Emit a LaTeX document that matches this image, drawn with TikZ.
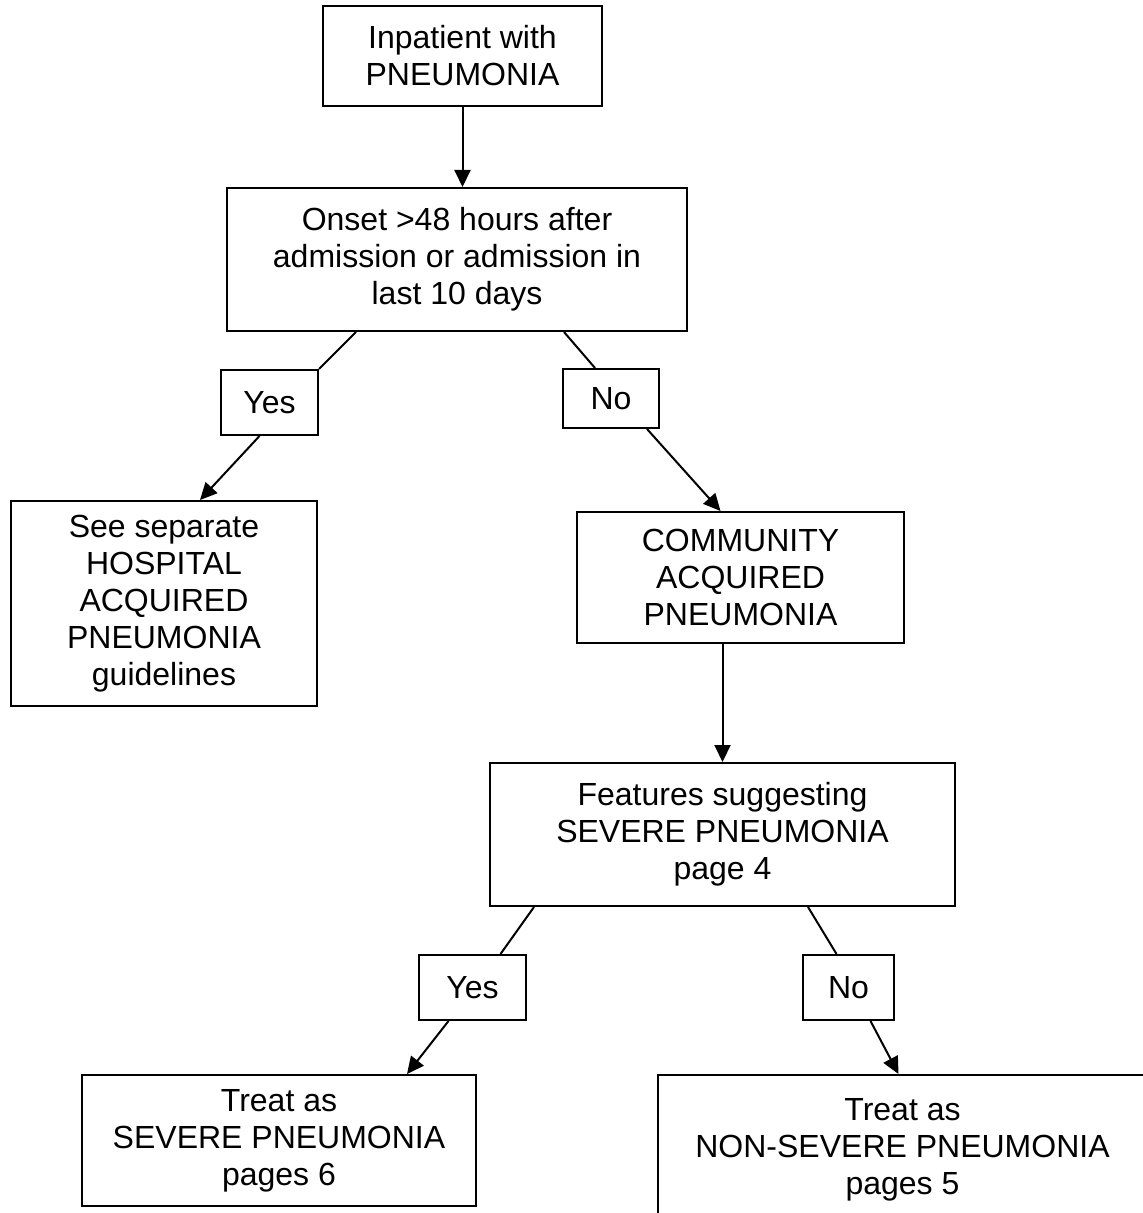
\documentclass[tikz,border=0pt]{standalone}
\usepackage{fontspec}
\setmainfont{Liberation Sans}
\usetikzlibrary{arrows.meta}
\tikzset{
  box/.style={draw, rectangle, line width=1pt, inner sep=0pt, align=center,
    font=\fontsize{16}{18.5}\selectfont},
  link/.style={line width=1pt},
  >={Triangle[length=8.5pt,width=8pt]}
}
\begin{document}
\begin{tikzpicture}[x=0.5pt,y=-0.5pt]
        \useasboundingbox (0,0) rectangle (1143,1213);
        \node[box, minimum width=139.5pt, minimum height=50pt] (B1) at (462.5,56){Inpatient with\\PNEUMONIA};
        \node[box, minimum width=230pt, minimum height=71.5pt] (B2) at (457,259.5){Onset >48 hours after\\admission or admission in\\last 10 days};
        \node[box, minimum width=48.5pt, minimum height=32.5pt] (Y1) at (269.5,402.5){Yes};
        \node[box, minimum width=48pt, minimum height=29.5pt] (N1) at (611,398.5){No};
        \node[box, minimum width=153pt, minimum height=102.5pt] (H) at (164,603.5){See separate\\HOSPITAL\\ACQUIRED\\PNEUMONIA\\guidelines};
        \node[box, minimum width=163.5pt, minimum height=65.5pt] (C) at (740.5,577.5){COMMUNITY\\ACQUIRED\\PNEUMONIA};
        \node[box, minimum width=232.5pt, minimum height=71.5pt] (F) at (722.5,834.5){Features suggesting\\SEVERE PNEUMONIA\\page 4};
        \node[box, minimum width=53.5pt, minimum height=32.5pt] (Y2) at (472.5,987.5){Yes};
        \node[box, minimum width=45.5pt, minimum height=32.5pt] (N2) at (848.5,987.5){No};
        \node[box, minimum width=197pt, minimum height=65.5pt] (S) at (279,1140.5){Treat as\\SEVERE PNEUMONIA\\pages 6};
        \node[box, minimum width=244.5pt, minimum height=75pt] (NS) at (902.5,1150){Treat as\\NON-SEVERE PNEUMONIA\\pages 5};
        \draw[link,->] (B1.south) -- (B1.south |- B2.north);
        \draw[link] ([xshift=65pt]B2.south west) -- (Y1.north east);
        \draw[link] ([xshift=-62pt]B2.south east) -- ([xshift=16.5pt]N1.north west);
        \draw[link,->] ([xshift=-5pt]Y1.south) -- ([xshift=18pt]H.north);
        \draw[link,->] ([xshift=18pt]N1.south) -- ([xshift=-10pt]C.north);
        \draw[link,->] (F.north |- C.south) -- (F.north);
        \draw[link] ([xshift=22.5pt]F.south west) -- ([xshift=14pt]Y2.north);
        \draw[link,->] ([xshift=-12pt]Y2.south) -- ([xshift=64pt]S.north);
        \draw[link] ([xshift=-74pt]F.south east) -- ([xshift=-6pt]N2.north);
        \draw[link,->] ([xshift=11pt]N2.south) -- ([xshift=-2pt]NS.north);
    \end{tikzpicture}
\end{document}
